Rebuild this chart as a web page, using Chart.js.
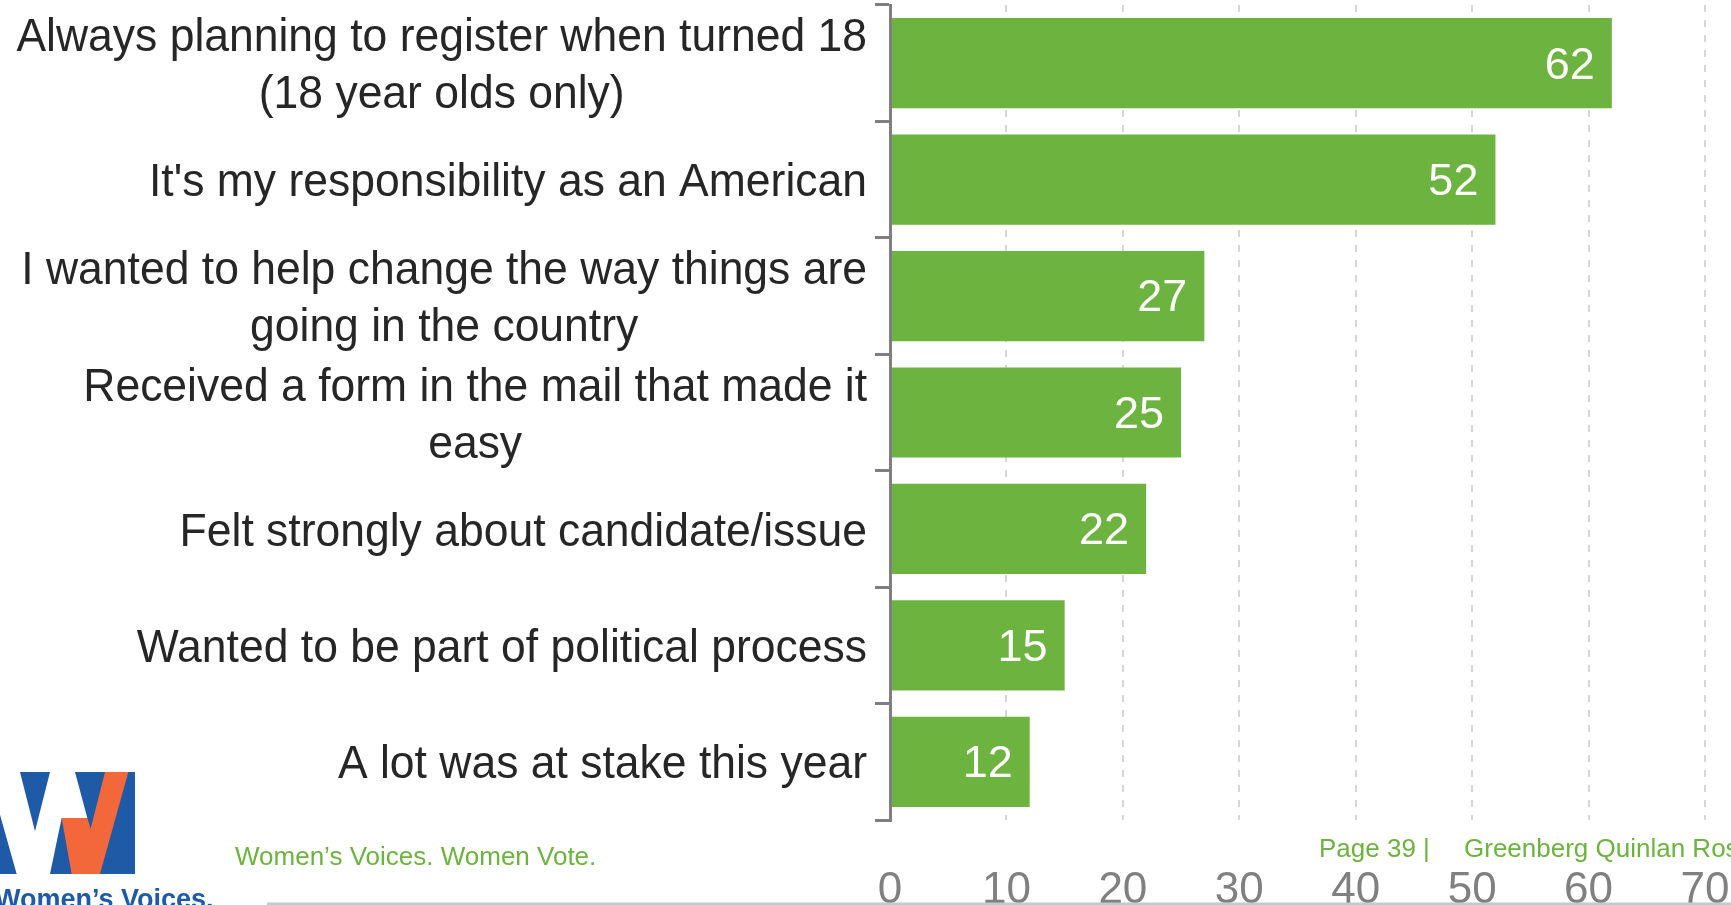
<!DOCTYPE html>
<html>
<head>
<meta charset="utf-8">
<title>Reasons for registering to vote</title>
<script src="https://cdn.jsdelivr.net/npm/chart.js@4.4.1/dist/chart.umd.min.js"></script>
<style>
    html, body { margin: 0; padding: 0; background: #ffffff; overflow: hidden; }
    #wrap { position: relative; width: 1731px; height: 905px; }
</style>
</head>
<body>
<div id="wrap"><canvas id="graph"></canvas></div>
<script>
// chart data
const reasons = [
    ["Always planning to register when turned 18", "(18 year olds only)"],
    ["It's my responsibility as an American"],
    ["I wanted to help change the way things are", "going in the country"],
    ["Received a form in the mail that made it", "easy"],
    ["Felt strongly about candidate/issue"],
    ["Wanted to be part of political process"],
    ["A lot was at stake this year"]
];
const percents = [62, 52, 27, 25, 22, 15, 12];
const xTicks = [0, 10, 20, 30, 40, 50, 60, 70];

// slide footer text
const footerTagline = "Women\u2019s Voices. Women Vote.";
const footerPage = "Page 39 |";
const footerFirm = "Greenberg Quinlan Rosner Research";
const logoName = "Women\u2019s Voices.";

const FONT = "'Liberation Sans', Arial, Helvetica, sans-serif";
const barGreen = "#6db33f";
const axisGray = "#7f7f7f";

Chart.defaults.font.family = FONT;

// category labels, each block right aligned to the axis, lines centred within it
// (the slide font is a little narrower than Liberation Sans, so squeeze it)
const categoryLabels = {
    id: "categoryLabels",
    afterDraw(chart) {
        const ctx = chart.ctx;
        const yScale = chart.scales.y;
        const right = chart.chartArea.left - 23;
        const squeeze = 0.967;
        ctx.save();
        ctx.font = "46px " + FONT;
        ctx.fillStyle = "#262626";
        ctx.textAlign = "center";
        ctx.textBaseline = "middle";
        ctx.translate(right, 0);
        ctx.scale(squeeze, 1);
        reasons.forEach((lines, i) => {
            const y = yScale.getPixelForValue(i) + 4;
            const widest = Math.max(...lines.map(l => ctx.measureText(l).width));
            lines.forEach((line, j) => {
                ctx.fillText(line, -widest / 2, y + (j - (lines.length - 1) / 2) * 57);
            });
        });
        ctx.restore();
    }
};

// white numbers inside the end of each bar
const valueLabels = {
    id: "valueLabels",
    afterDatasetsDraw(chart) {
        const ctx = chart.ctx;
        const meta = chart.getDatasetMeta(0);
        ctx.save();
        ctx.font = "45px " + FONT;
        ctx.fillStyle = "#ffffff";
        ctx.textAlign = "right";
        ctx.textBaseline = "middle";
        meta.data.forEach((bar, i) => {
            ctx.fillText(String(percents[i]), bar.x - 17, bar.y + 3);
        });
        ctx.restore();
    }
};

// footer: rule, tagline, page number and logo
const slideFooter = {
    id: "slideFooter",
    afterDraw(chart) {
        const ctx = chart.ctx;
        ctx.save();
        ctx.strokeStyle = "#c8c8c8";
        ctx.lineWidth = 3;
        ctx.beginPath();
        ctx.moveTo(267, 904);
        ctx.lineTo(chart.width, 904);
        ctx.stroke();

        ctx.font = "26px " + FONT;
        ctx.fillStyle = "#6cb33f";
        ctx.textBaseline = "alphabetic";
        ctx.textAlign = "left";
        ctx.fillText(footerTagline, 235, 865);
        ctx.fillText(footerPage, 1319, 857);
        ctx.fillText(footerFirm, 1464, 857);

        // logo, drawn in 3x units then scaled down
        ctx.translate(0, 768);
        ctx.scale(1 / 3, 1 / 3);
        ctx.fillStyle = "#1f5aa6";
        ctx.fillRect(0, 12, 405, 306);
        ctx.fillStyle = "#ffffff";
        ctx.beginPath();
        [[0, 12], [60, 12], [105, 190], [150, 12], [225, 12], [262, 150],
         [185, 150], [150, 318], [50, 318], [0, 140]].forEach((p, k) => {
            k ? ctx.lineTo(p[0], p[1]) : ctx.moveTo(p[0], p[1]);
        });
        ctx.closePath();
        ctx.fill();
        ctx.fillStyle = "#f2683a";
        ctx.beginPath();
        [[185, 150], [262, 150], [272, 182], [315, 12], [385, 12], [300, 318],
         [215, 318]].forEach((p, k) => {
            k ? ctx.lineTo(p[0], p[1]) : ctx.moveTo(p[0], p[1]);
        });
        ctx.closePath();
        ctx.fill();
        ctx.setTransform(1, 0, 0, 1, 0, 0);

        ctx.font = "bold 27px " + FONT;
        ctx.fillStyle = "#1f5aa6";
        ctx.fillText(logoName, -5, 908);
        ctx.restore();
    }
};

const ctx = document.getElementById("graph").getContext("2d");
const chart = new Chart(ctx, {
    type: "bar",
    data: {
        labels: reasons,
        datasets: [{
            data: percents,
            backgroundColor: barGreen,
            borderWidth: 0,
            barPercentage: 0.775,
            categoryPercentage: 1
        }]
    },
    options: {
        indexAxis: "y",
        responsive: true,
        maintainAspectRatio: false,
        animation: false,
        layout: { padding: { top: 5, left: 0, right: 0, bottom: 0 } },
        plugins: {
            legend: { display: false },
            tooltip: { enabled: false }
        },
        scales: {
            x: {
                min: xTicks[0],
                max: xTicks[xTicks.length - 1],
                ticks: {
                    stepSize: xTicks[1] - xTicks[0],
                    color: "#808080",
                    font: { size: 44 },
                    padding: 44,
                    maxRotation: 0
                },
                grid: { color: "#d6d6d6", lineWidth: 2, drawTicks: false },
                border: { display: false, dash: [7, 8] },
                afterFit: s => { s.height = 85; s.paddingLeft = 0; s.paddingRight = 26; }
            },
            y: {
                ticks: { display: false },
                grid: { drawOnChartArea: false, drawTicks: true, tickLength: 15, color: axisGray, lineWidth: 3 },
                border: { display: true, color: axisGray, width: 3, z: 1 },
                afterFit: s => { s.width = 890; s.paddingTop = 0; s.paddingBottom = 0; }
            }
        }
    },
    plugins: [categoryLabels, valueLabels, slideFooter]
});
</script>
</body>
</html>
